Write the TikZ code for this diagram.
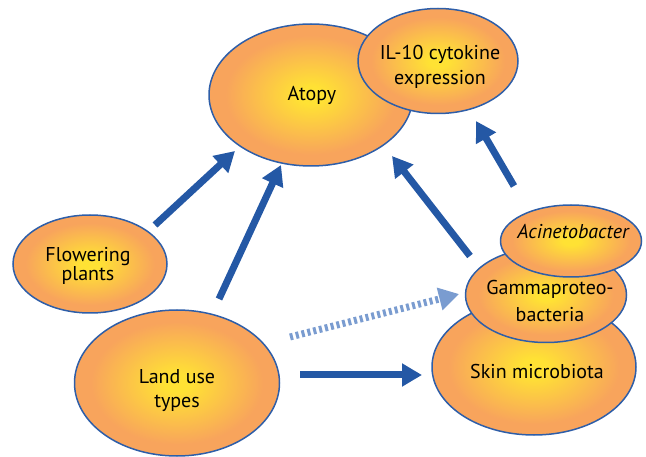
\documentclass[tikz,border=0pt]{standalone}
\usepackage{fontspec}
\setmainfont{PT Sans}
\usetikzlibrary{shapes.geometric,arrows.meta}
\definecolor{edgeblue}{RGB}{46,94,168}
\definecolor{arrblue}{RGB}{36,88,165}
\definecolor{lightblue}{RGB}{122,156,208}
\definecolor{glowin}{RGB}{255,226,52}
\definecolor{glowout}{RGB}{248,164,92}
\pgfdeclareradialshading{glow}{\pgfpoint{0bp}{0bp}}{color(0bp)=(glowin); color(3bp)=(glowin); color(21bp)=(glowout); color(25bp)=(glowout); color(50bp)=(glowout)}
\begin{document}
\begin{tikzpicture}[x=1pt,y=-1pt,
  bub/.style={ellipse, draw=edgeblue, line width=1.5pt, shading=glow, inner sep=0pt},
  txt/.style={align=center, inner sep=0pt, font=\fontsize{20}{24}\selectfont},
  arr/.style={draw=arrblue, line width=7pt, -{Triangle[length=20pt,width=22pt]}},
  dotarr/.style={draw=lightblue, line width=7pt, dash pattern=on 3pt off 3pt, -{Triangle[length=20pt,width=22pt]}}]
\useasboundingbox (0,0) rectangle (646,457);
% ellipses
\node[bub, minimum width=204pt, minimum height=142pt] (atopy) at (311,95) {};
\node[txt] (atopyT) at (312,95) {Atopy};
\node[bub, minimum width=160pt, minimum height=105pt] (il10) at (438,61) {};
\node[txt, font=\fontsize{20}{25}\selectfont] (il10T) at (440,67) {IL-10 cytokine\\expression};
\node[bub, minimum width=154pt, minimum height=98pt] (flower) at (90,264) {};
\node[txt, font=\fontsize{20}{19}\selectfont] (flowerT) at (88,266) {Flowering\\plants};
\node[bub, minimum width=205pt, minimum height=146pt] (land) at (177,383) {};
\node[txt] (landT) at (177,391) {Land use\\types};
\node[bub, minimum width=204pt, minimum height=136pt] (skin) at (534,367) {};
\node[txt] (skinT) at (537,372) {Skin microbiota};
\node[bub, minimum width=161pt, minimum height=95pt] (gamma) at (546,295) {};
\node[txt, font=\fontsize{20}{27}\selectfont] (gammaT) at (550,301) {Gammaproteo-\\bacteria};
\node[bub, minimum width=141pt, minimum height=72pt] (acin) at (571,241) {};
\node[txt, font=\fontsize{20}{24}\selectfont\itshape] (acinT) at (573,232) {Acinetobacter};
% arrow end points
\coordinate (f1) at (155,225); \coordinate (f2) at (235,151);
\coordinate (l1) at (219,299); \coordinate (l2) at (281,165);
\coordinate (g1) at (470,256); \coordinate (g2) at (392,156);
\coordinate (c1) at (514,186); \coordinate (c2) at (476,121);
\coordinate (h1) at (300,375); \coordinate (h2) at (422,375);
\coordinate (d1) at (290,337); \coordinate (d2) at (459,294);
\draw[arr] (f1) -- (f2);
\draw[arr] (l1) -- (l2);
\draw[arr] (g1) -- (g2);
\draw[arr] (c1) -- (c2);
\draw[arr] (h1) -- (h2);
\draw[dotarr] (d1) -- (d2);
\end{tikzpicture}
\end{document}
